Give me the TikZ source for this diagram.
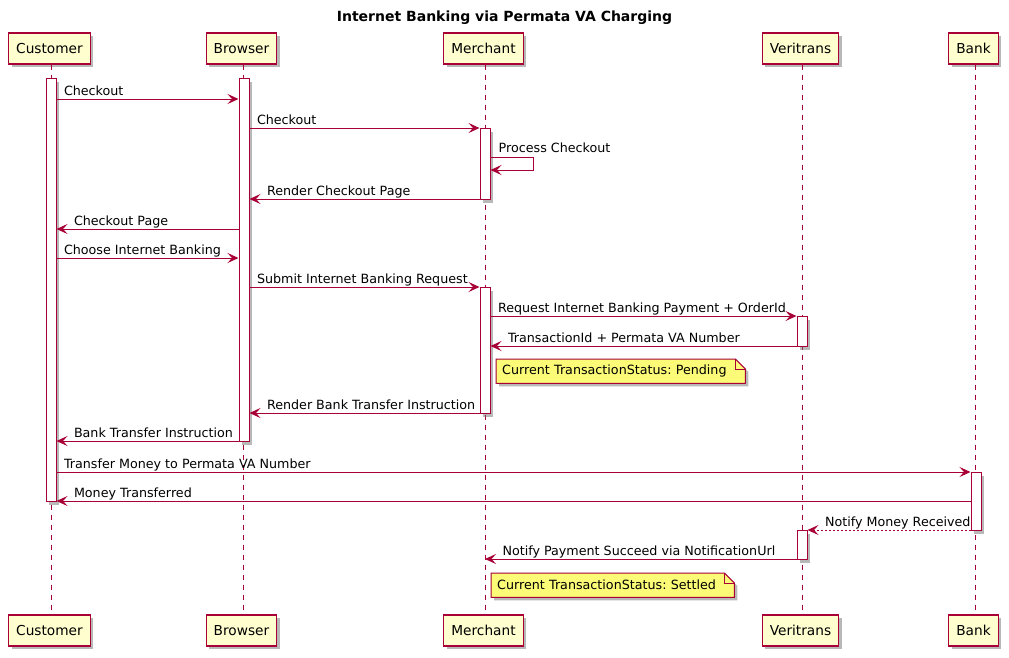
\documentclass[tikz,border=0pt]{standalone}
\usepackage{fontspec}
\setmainfont{DejaVu Sans}
\usetikzlibrary{arrows.meta,shadows,calc}
\definecolor{pcol}{HTML}{A80036}
\definecolor{pfill}{HTML}{FEFECE}
\definecolor{nfill}{HTML}{FBFB77}
\newcommand{\msgfont}{\fontsize{12.7}{15}\selectfont}
\frenchspacing
\tikzset{
  shd/.style={drop shadow={shadow xshift=3pt,shadow yshift=-3pt,fill=black!55,opacity=.5}},
  part/.style={draw=pcol,fill=pfill,line width=1.1pt,minimum height=31pt,inner xsep=7.5pt,inner ysep=0pt,font=\fontsize{13.7}{16}\selectfont,shd},
  life/.style={draw=pcol,line width=0.8pt,dash pattern=on 5pt off 5pt},
  act/.style={draw=pcol,fill=white,line width=1pt,minimum width=10pt,inner sep=0pt,anchor=north,shd},
  msg/.style={draw=pcol,line width=1pt,-{Stealth[length=11pt,width=10pt,inset=4.5pt]}},
  dotmsg/.style={msg,dash pattern=on 2pt off 2pt},
  lr/.style={anchor=base west,xshift=7pt,yshift=3.5pt,font=\msgfont,inner sep=0pt,text=black},
  ll/.style={anchor=base west,xshift=17pt,yshift=3.5pt,font=\msgfont,inner sep=0pt,text=black},
  notebox/.style={anchor=north west,inner xsep=6pt,inner ysep=0pt,minimum height=24pt,align=left,font=\msgfont},
  noteline/.style={draw=pcol,fill=nfill,line width=1pt,shd},
  foldline/.style={draw=pcol,line width=1pt},
  titlestyle/.style={font=\bfseries\fontsize{14}{16}\selectfont}
}
\begin{document}
\begin{tikzpicture}[x=1pt,y=-1pt]
\useasboundingbox[fill=white] (0,0) rectangle (1009,657);
\node[titlestyle] (title) at (504.5,18) {Internet Banking via Permata VA Charging};
% participants
\node[part] (pC) at (49.5,48.5) {Customer};
\node[part] (pB) at (241.5,48.5) {Browser};
\node[part] (pM) at (483.5,48.5) {Merchant};
\node[part] (pV) at (800.5,48.5) {Veritrans};
\node[part] (pK) at (973.5,48.5) {Bank};
\node[part] (pCb) at (49.5,630.5) {Customer};
\node[part] (pBb) at (241.5,630.5) {Browser};
\node[part] (pMb) at (483.5,630.5) {Merchant};
\node[part] (pVb) at (800.5,630.5) {Veritrans};
\node[part] (pKb) at (973.5,630.5) {Bank};
% lifelines
\foreach \t/\b in {pC/pCb,pB/pBb,pM/pMb,pV/pVb,pK/pKb}
  \draw[life] ([xshift=1.5pt]\t.south) -- ([xshift=1.5pt]\b.north);
% activations
\node[act,minimum height=423pt] (aC) at (51,78) {};
\node[act,minimum height=363pt] (aB) at (244,78) {};
\node[act,minimum height=71pt] (aM1) at (485,128) {};
\node[act,minimum height=126pt] (aM2) at (485,287) {};
\node[act,minimum height=30pt] (aV1) at (802,316) {};
\node[act,minimum height=29pt] (aV2) at (802,530) {};
\node[act,minimum height=58pt] (aK) at (976,472) {};
\coordinate (lM) at ([xshift=1.5pt]pMb.north);
% messages
\draw[msg] (aC.east |- 0,99) -- (aB.west |- 0,99) node[lr,pos=0] {Checkout};
\draw[msg] (aB.east |- 0,128) -- (aM1.west |- 0,128) node[lr,pos=0] {Checkout};
\coordinate (sa) at (533,157);
\coordinate (sb) at (533,170);
\draw[msg] (aM1.east |- sa) -- (sa) -- (sb) -- (aM1.east |- sb);
\node[lr,xshift=1pt,yshift=1pt] (selfl) at (aM1.east |- sa) {Process Checkout};
\draw[msg] (aM1.west |- 0,199) -- (aB.east |- 0,199) node[ll,pos=1] {Render Checkout Page};
\draw[msg] (aB.west |- 0,229) -- (aC.east |- 0,229) node[ll,pos=1] {Checkout Page};
\draw[msg] (aC.east |- 0,258) -- (aB.west |- 0,258) node[lr,pos=0] {Choose Internet Banking};
\draw[msg] (aB.east |- 0,287) -- (aM2.west |- 0,287) node[lr,pos=0] {Submit Internet Banking Request};
\draw[msg] (aM2.east |- 0,316) -- (aV1.west |- 0,316) node[lr,pos=0] {Request Internet Banking Payment + OrderId};
\draw[msg] (aV1.west |- 0,346) -- (aM2.east |- 0,346) node[ll,pos=1] {TransactionId + Permata VA Number};
% note 1
\node[notebox,text width=237pt] (n1) at (496,359) {\phantom{Current}};
\draw[noteline] (n1.north west) -- ([xshift=-10pt]n1.north east) -- ([yshift=-10pt]n1.north east) -- (n1.south east) -- (n1.south west) -- cycle;
\draw[foldline] ([xshift=-10pt]n1.north east) -- ([xshift=-10pt,yshift=-10pt]n1.north east) -- ([yshift=-10pt]n1.north east);
\node[notebox,text width=237pt] (n1t) at (496,359) {Current TransactionStatus: Pending};
\draw[msg] (aM2.west |- 0,413) -- (aB.east |- 0,413) node[ll,pos=1] {Render Bank Transfer Instruction};
\draw[msg] (aB.west |- 0,441) -- (aC.east |- 0,441) node[ll,pos=1] {Bank Transfer Instruction};
\draw[msg] (aC.east |- 0,472) -- (aK.west |- 0,472) node[lr,pos=0] {Transfer Money to Permata VA Number};
\draw[msg] (aK.west |- 0,501) -- (aC.east |- 0,501) node[ll,pos=1] {Money Transferred};
\draw[dotmsg] (aK.west |- 0,530) -- (aV2.east |- 0,530) node[ll,pos=1] {Notify Money Received};
\draw[msg] (aV2.west |- 0,559) -- (lM |- 0,559) node[ll,pos=1] {Notify Payment Succeed via NotificationUrl};
% note 2
\node[notebox,text width=231pt] (n2) at (491,573) {\phantom{Current}};
\draw[noteline] (n2.north west) -- ([xshift=-10pt]n2.north east) -- ([yshift=-10pt]n2.north east) -- (n2.south east) -- (n2.south west) -- cycle;
\draw[foldline] ([xshift=-10pt]n2.north east) -- ([xshift=-10pt,yshift=-10pt]n2.north east) -- ([yshift=-10pt]n2.north east);
\node[notebox,text width=231pt] (n2t) at (491,573) {Current TransactionStatus: Settled};
\end{tikzpicture}
\end{document}
